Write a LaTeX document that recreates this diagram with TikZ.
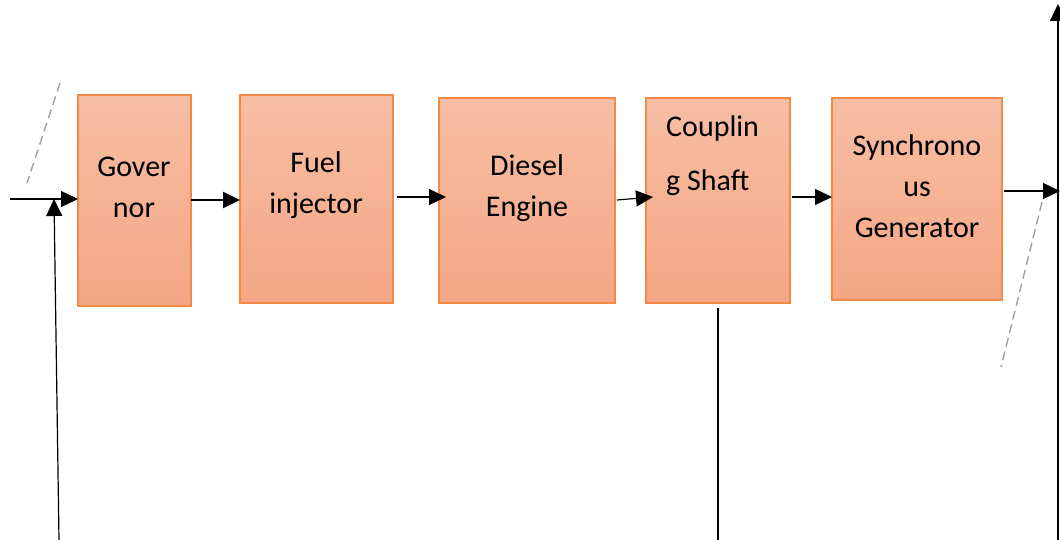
\documentclass[tikz,border=0pt]{standalone}
\usepackage{fontspec}
\setmainfont{Carlito}
\usetikzlibrary{arrows.meta}
\definecolor{boxtop}{HTML}{F6BEA4}
\definecolor{boxbot}{HTML}{F5A684}
\definecolor{boxline}{HTML}{F08A45}
\definecolor{dashgray}{HTML}{A0A0A0}
\begin{document}
\begin{tikzpicture}[x=1pt,y=-1pt,
  blk/.style={draw=boxline, line width=1.3pt, top color=boxtop, bottom color=boxbot,
              anchor=north west, inner sep=0pt, outer sep=0pt},
  lbl/.style={font=\fontsize{30}{41}\selectfont, align=center, inner sep=0pt},
  conn/.style={line width=1.2pt, -{Triangle[length=17pt,width=16pt]}},
  dashline/.style={draw=dashgray, line width=1.4pt, dash pattern=on 9pt off 5pt},
  plain/.style={line width=1.4pt}
]
\useasboundingbox (0,0) rectangle (1060,540);

% blocks
\node[blk, minimum width=113pt, minimum height=211pt] (gov) at (78,95) {};
\node[blk, minimum width=153pt, minimum height=208pt] (fuel) at (240,95) {};
\node[blk, minimum width=176pt, minimum height=205pt] (eng) at (439,98) {};
\node[blk, minimum width=144pt, minimum height=205pt] (cpl) at (646,98) {};
\node[blk, minimum width=170pt, minimum height=202pt] (gen) at (832,98) {};

% labels
\node[lbl] (govT) at (134,187) {Gover\\nor};
\node[lbl] (fuelT) at (316,185) {Fuel\\injector};
\node[lbl] (engT) at (527,188) {Diesel\\Engine};
\node[lbl, align=left, anchor=west, font=\fontsize{30}{54}\selectfont] (cplT) at (666,156) {Couplin\\g Shaft};
\node[lbl] (genT) at (917,186) {Synchrono\\us\\Generator};

% helper coordinates
\coordinate (in) at (10,199);
\coordinate (fbBot) at (59,540);
\coordinate (fbTop) at (54,199);
\coordinate (outEnd) at (1060,191);
\coordinate (rBot) at (1058,540);
\coordinate (rTop) at (1058,4);
\coordinate (cplBot) at (718,540);
\coordinate (dl1) at (60,83);
\coordinate (dl2) at (27,183);
\coordinate (dr1) at (1042,202);
\coordinate (dr2) at (1001,367);

% connectors
\draw[conn] (in) -- (gov.west |- in);
\draw[conn] (fbBot) -- (fbTop);
\draw[conn, line width=2.4pt] (gov.east |- 0,200) -- (fuel.west |- 0,200);
\draw[conn] ([xshift=4pt]fuel.east |- 0,197) -- ([xshift=7pt]eng.west |- 0,197);
\draw[conn] ([xshift=2pt]eng.east |- 0,200) -- ([xshift=7pt]cpl.west |- 0,197);
\draw[conn] ([xshift=2pt]cpl.east |- 0,197) -- (gen.west |- 0,197);
\draw[conn] ([xshift=2pt]gen.east |- 0,191) -- (outEnd);
\draw[conn] (rBot) -- (rTop);
\draw[plain] ([yshift=-5pt]cpl.south -| cplBot) -- (cplBot);

% dashed lines
\draw[dashline] (dl1) -- (dl2);
\draw[dashline] (dr1) -- (dr2);
\end{tikzpicture}
\end{document}
